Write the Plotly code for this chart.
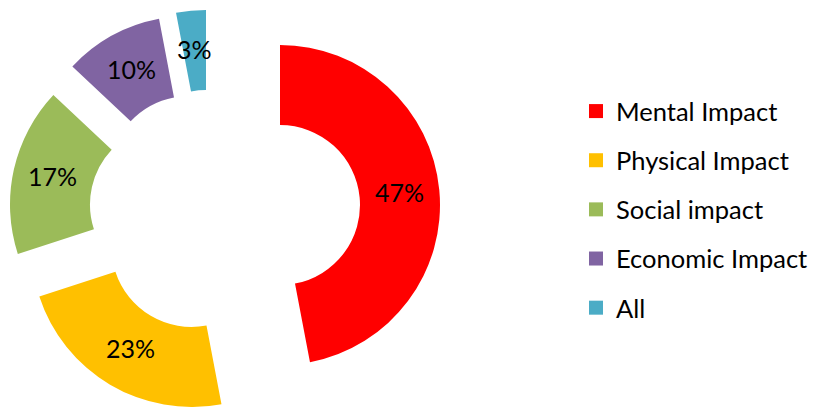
import math
import plotly.graph_objects as go

# ---- data ----
labels = ["Mental Impact", "Physical Impact", "Social impact", "Economic Impact", "All"]
values = [47, 23, 17, 10, 3]
colors = ["#FF0000", "#FFC000", "#9BBB59", "#8064A2", "#4BACC6"]

# ---- layout geometry (pixels) ----
W, H = 813, 407
R = 160                      # outer radius of ring
HOLE = 0.5
# exploded centre of each slice (px from top-left)
slice_centres = [(280, 205), (191.5, 247), (170, 204.5), (189, 176), (206, 170)]
FONT = "Lato, Carlito, Calibri, sans-serif"
TRANSPARENT = "rgba(0,0,0,0)"

total = sum(values)
pct_text = [f"{v / total * 100:.0f}%" for v in values]

fig = go.Figure()
annotations = []
cum = 0.0
for i, (cx, cy) in enumerate(slice_centres):
    cols = [colors[j] if j == i else TRANSPARENT for j in range(len(values))]
    fig.add_trace(go.Pie(
        labels=labels,
        values=values,
        sort=False,
        direction="clockwise",
        rotation=0,
        hole=HOLE,
        marker=dict(colors=cols, line=dict(width=0)),
        textinfo="none",
        hoverinfo="skip",
        showlegend=False,
        domain=dict(
            x=[(cx - R) / W, (cx + R) / W],
            y=[1 - (cy + R) / H, 1 - (cy - R) / H],
        ),
    ))
    # percentage label at mid-radius on the slice bisector
    mid = (cum + values[i] / 2) / total * 2 * math.pi
    cum += values[i]
    rm = R * (1 + HOLE) / 2
    lx = cx + rm * math.sin(mid)
    ly = cy - rm * math.cos(mid)
    annotations.append(dict(
        x=lx / W, y=1 - ly / H, xref="paper", yref="paper",
        text=pct_text[i], showarrow=False,
        xanchor="center", yanchor="middle", yshift=2,
        font=dict(family=FONT, size=25, color="black"),
    ))

# legend entries
for lab, col in zip(labels, colors):
    fig.add_trace(go.Scatter(
        x=[None], y=[None], mode="markers", name=lab,
        legendgroup=lab,
        marker=dict(symbol="square", size=14, color=col),
        hoverinfo="skip",
    ))

fig.update_layout(
    width=W, height=H,
    margin=dict(l=0, r=0, t=0, b=0),
    paper_bgcolor="white",
    plot_bgcolor="white",
    xaxis=dict(visible=False),
    yaxis=dict(visible=False),
    annotations=annotations,
    legend=dict(
        x=576 / W, y=1 - 88 / H,
        xanchor="left", yanchor="top",
        font=dict(family=FONT, size=25.5, color="black"),
        tracegroupgap=13,
        bgcolor="rgba(0,0,0,0)",
    ),
)

fig.write_html("out.html", config={"displayModeBar": False},
               post_script="document.body.style.margin='0';")
